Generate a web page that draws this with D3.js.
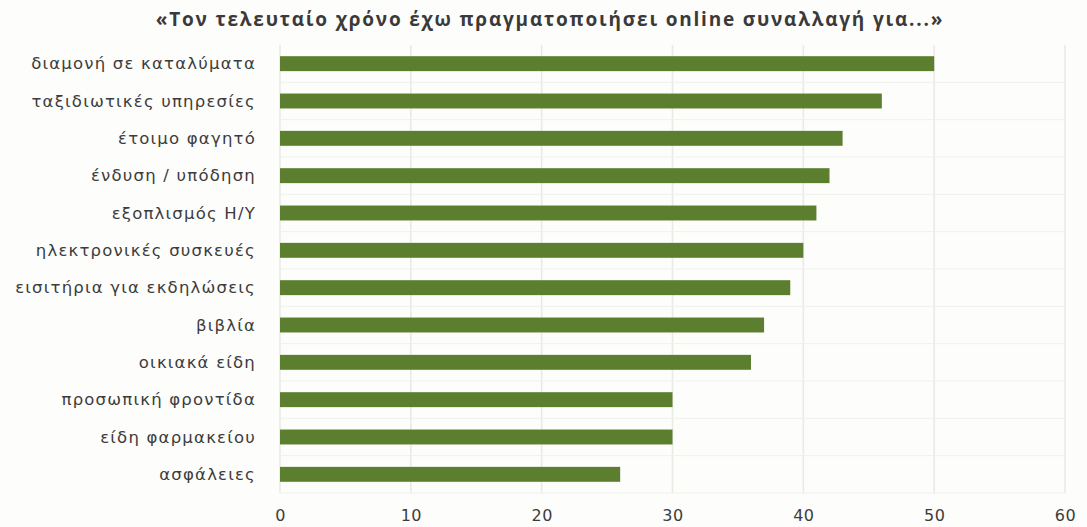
<!DOCTYPE html>
<html>
<head>
<meta charset="utf-8">
<script src="https://cdn.jsdelivr.net/npm/d3@7"></script>
<style>
  body { margin: 0; background: #fdfdfb; }
  svg { display: block; }
</style>
</head>
<body>
<div id="chart"></div>
<script>
// categories top to bottom, and their values (%)
const categories = [
    "διαμονή σε καταλύματα",
    "ταξιδιωτικές υπηρεσίες",
    "έτοιμο φαγητό",
    "ένδυση / υπόδηση",
    "εξοπλισμός Η/Υ",
    "ηλεκτρονικές συσκευές",
    "εισιτήρια για εκδηλώσεις",
    "βιβλία",
    "οικιακά είδη",
    "προσωπική φροντίδα",
    "είδη φαρμακείου",
    "ασφάλειες"
];
const values = [50, 46, 43, 42, 41, 40, 39, 37, 36, 30, 30, 26];
const ticks = [0, 10, 20, 30, 40, 50, 60];

const title = "«Τον τελευταίο χρόνο έχω πραγματοποιήσει online συναλλαγή για...»";

const width = 1087, height = 527;
const margin = { top: 45, right: 22, bottom: 34, left: 280 };

const svg = d3.select("#chart")
    .append("svg")
    .attr("width", width)
    .attr("height", height);

const x = d3.scaleLinear()
    .domain([0, 60])
    .range([margin.left, width - margin.right]);

const y = d3.scaleBand()
    .domain(categories)
    .range([margin.top, height - margin.bottom])
    .paddingInner(0.6)
    .paddingOuter(0.3);

// title
svg.append("text")
    .attr("x", 550)
    .attr("y", 26)
    .attr("text-anchor", "middle")
    .attr("font-family", "Open Sans")
    .attr("font-weight", "bold")
    .attr("font-size", 19)
    .attr("letter-spacing", 1.8)
    .attr("fill", "#3a3a3a")
    .text(title);

// faint vertical gridlines
svg.append("g")
    .selectAll("line")
    .data(ticks)
    .enter()
    .append("line")
    .attr("x1", d => x(d))
    .attr("x2", d => x(d))
    .attr("y1", margin.top)
    .attr("y2", height - margin.bottom)
    .attr("stroke", "#e8eae4")
    .attr("stroke-width", 1.5);

// faint horizontal separators between bars
const step = y.step();
svg.append("g")
    .selectAll("line")
    .data(categories)
    .enter()
    .append("line")
    .attr("x1", margin.left)
    .attr("x2", width - margin.right)
    .attr("y1", d => y(d) + y.bandwidth() / 2 + step / 2)
    .attr("y2", d => y(d) + y.bandwidth() / 2 + step / 2)
    .attr("stroke", "#f0f1ec")
    .attr("stroke-width", 1);

// bars
svg.append("g")
    .selectAll("rect")
    .data(categories)
    .enter()
    .append("rect")
    .attr("x", x(0))
    .attr("y", d => y(d))
    .attr("width", (d, i) => x(values[i]) - x(0))
    .attr("height", y.bandwidth())
    .attr("fill", "#5b7e2f");

// category labels
svg.append("g")
    .selectAll("text")
    .data(categories)
    .enter()
    .append("text")
    .attr("x", 256)
    .attr("y", d => y(d) + y.bandwidth() / 2)
    .attr("dy", "0.35em")
    .attr("text-anchor", "end")
    .attr("font-family", "DejaVu Sans")
    .attr("font-size", 16.5)
    .attr("letter-spacing", 1.2)
    .attr("fill", "#3c3c3c")
    .text(d => d);

// x axis
const xAxis = d3.axisBottom(x)
    .tickValues(ticks)
    .tickSize(0)
    .tickPadding(0);

const gx = svg.append("g")
    .attr("transform", `translate(0, ${height - 4})`)
    .call(xAxis);
gx.select(".domain").remove();
gx.selectAll("text")
    .attr("dy", "-0.1em")
    .attr("font-family", "DejaVu Sans")
    .attr("font-size", 16)
    .attr("letter-spacing", 0.5)
    .attr("fill", "#3c3c3c");
</script>
</body>
</html>
